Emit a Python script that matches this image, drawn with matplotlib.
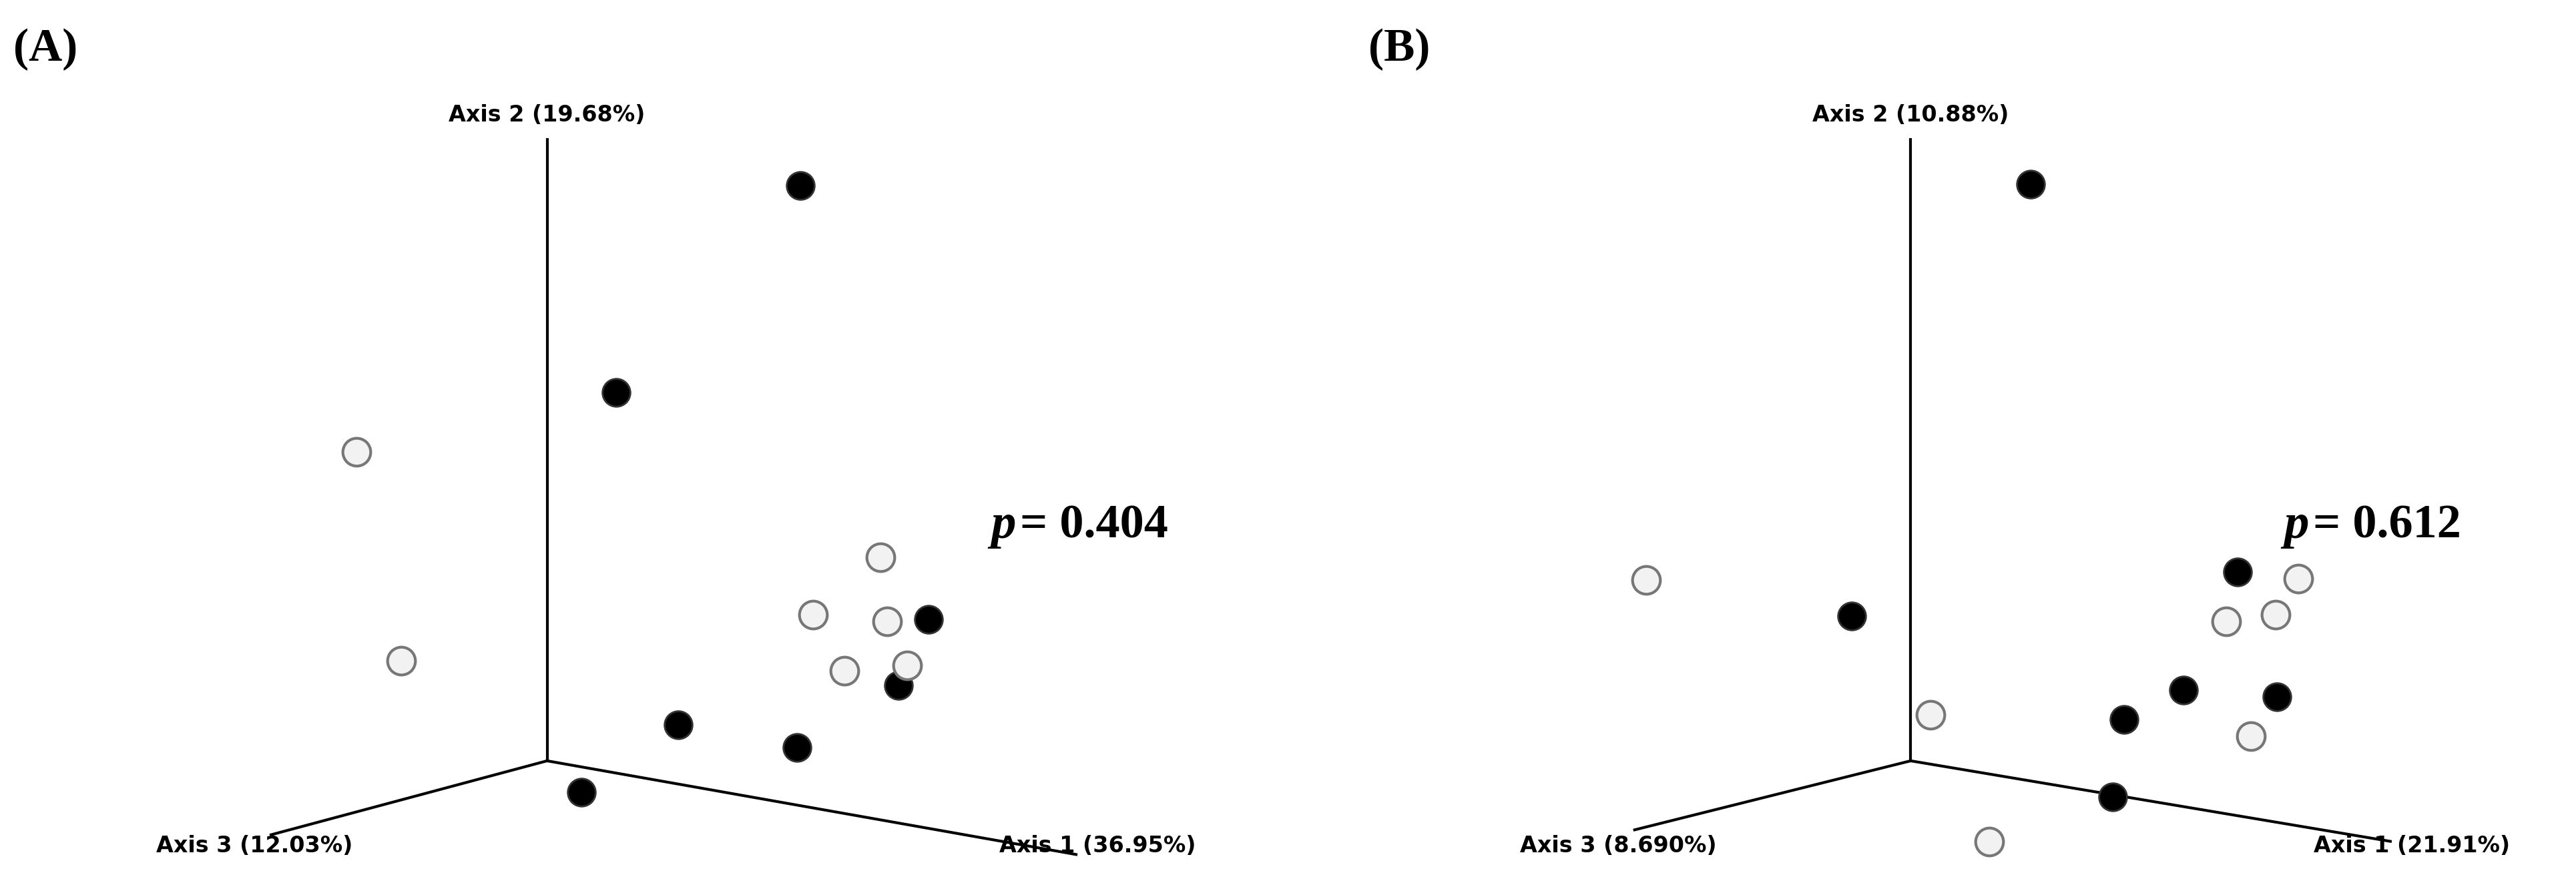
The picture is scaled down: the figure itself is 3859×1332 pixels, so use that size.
import matplotlib.pyplot as plt

# coordinates (image-like units, y grows downward)
a_filled_x = [487, 375, 565, 547, 413, 485, 354]
a_filled_y = [113, 239, 377, 417, 441, 455, 482]
a_open_x = [217, 244, 536, 495, 540, 514, 552]
a_open_y = [275, 402, 339, 374, 378, 408, 405]

b_filled_x = [1236, 1127, 1362, 1329, 1386, 1293, 1286]
b_filled_y = [112, 375, 348, 420, 424, 438, 485]
b_open_x = [1002, 1399, 1355, 1385, 1175, 1370, 1211]
b_open_y = [353, 352, 378, 374, 435, 448, 512]

a_labels = ["Axis 1 (36.95%)", "Axis 2 (19.68%)", "Axis 3 (12.03%)"]
b_labels = ["Axis 1 (21.91%)", "Axis 2 (10.88%)", "Axis 3 (8.690%)"]
p_values = ["0.404", "0.612"]

fig = plt.figure(figsize=(38.59, 13.32), dpi=100)
ax = fig.add_axes([0, 0, 1, 1])
ax.set_xlim(0, 1568)
ax.set_ylim(541, 0)
ax.axis("off")

lab = dict(fontsize=24, fontweight="bold", family="DejaVu Sans",
           va="center", zorder=4)


def panel(ox, oy, ax1, ax3, labels, fx, fy, opx, opy, pval, px, tag, tx):
    ax.plot([ox, ox], [oy, 85], color="black", lw=3)
    ax.plot([ox, ax3[0]], [oy, ax3[1]], color="black", lw=3)
    ax.plot([ox, ax1[0]], [oy, ax1[1]], color="black", lw=3)
    ax.text(ox, 70, labels[1], ha="center", **lab)
    ax.text(ax3[0] - 10, 515, labels[2], ha="center", **lab)
    ax.text(ax1[0] + 13, 515, labels[0], ha="center", **lab)
    ax.plot(fx, fy, "o", ms=30, color="black", mec="#333333", mew=2, zorder=3)
    ax.plot(opx, opy, "o", ms=30, color="#f2f2f2", mec="#777777", mew=3, zorder=3)
    ax.text(px, 320, "p", fontsize=54, fontweight="bold", fontstyle="italic",
            family="Liberation Serif", va="center", ha="left")
    ax.text(px + 18, 320, "= " + pval, fontsize=52, fontweight="bold",
            family="Liberation Serif", va="center", ha="left")
    ax.text(tx, 30, tag, fontsize=50, fontweight="bold", family="Liberation Serif",
            va="center", ha="left")


panel(333, 463, (655, 520), (165, 508), a_labels, a_filled_x, a_filled_y,
      a_open_x, a_open_y, p_values[0], 603, "(A)", 8)
panel(1163, 463, (1455, 512), (995, 505), b_labels, b_filled_x, b_filled_y,
      b_open_x, b_open_y, p_values[1], 1390, "(B)", 833)

fig.savefig("out.png", dpi=100)
